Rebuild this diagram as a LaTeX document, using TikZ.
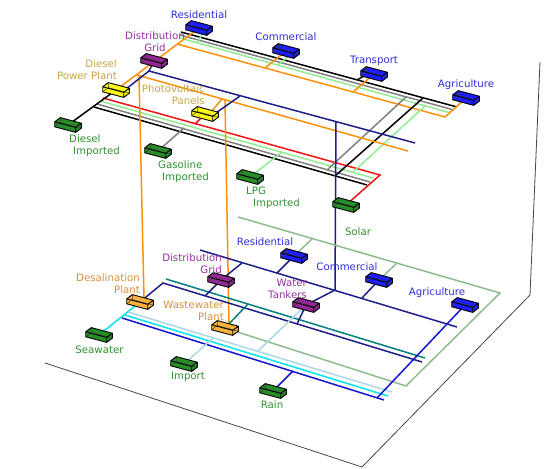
\documentclass[tikz,border=0pt]{standalone}
\usepackage{fontspec}
\setmainfont{DejaVu Sans}
\usetikzlibrary{calc}
\definecolor{cOrange}{RGB}{255,145,10}
\definecolor{cNavy}{RGB}{30,30,135}
\definecolor{cLGreen}{RGB}{144,238,144}
\definecolor{cGray}{RGB}{128,128,128}
\definecolor{cRed}{RGB}{240,20,20}
\definecolor{cTeal}{RGB}{0,128,128}
\definecolor{cCyan}{RGB}{0,230,240}
\definecolor{cLBlue}{RGB}{173,216,230}
\definecolor{cMBlue}{RGB}{20,20,210}
\definecolor{cSea}{RGB}{143,188,143}
\definecolor{cFrame}{RGB}{70,70,70}
\definecolor{fBlue}{RGB}{30,30,250}
\definecolor{fPurple}{RGB}{145,40,150}
\definecolor{fYellow}{RGB}{250,250,20}
\definecolor{fOrange}{RGB}{250,180,60}
\definecolor{fGreen}{RGB}{40,140,40}
\definecolor{tBlue}{RGB}{45,45,220}
\definecolor{tPurple}{RGB}{150,50,160}
\definecolor{tGold}{RGB}{200,165,70}
\definecolor{tOrange}{RGB}{215,145,60}
\definecolor{tGreen}{RGB}{50,145,50}
\tikzset{
  ln/.style={line width=1.5pt},
  frameline/.style={line width=0.8pt, cFrame},
  boxedge/.style={line width=0.9pt, black},
  hidedge/.style={line width=0.5pt, black!75},
  lab/.style={font=\fontsize{10.2}{12}\selectfont, inner sep=0pt},
  pics/bx/.style={code={
    \fill[#1] (-7.7,-7.4) -- (13.3,-1.8) -- (13.3,3.2) -- (7.7,7.4) -- (-13.3,1.8) -- (-13.3,-3.2) -- cycle;
    \draw[hidedge] (-7.7,-7.4) -- (-7.7,-2.4) -- (13.3,3.2) (-7.7,-2.4) -- (-13.3,1.8);
    \draw[boxedge, line join=round] (-7.7,-7.4) -- (13.3,-1.8) -- (7.7,2.4) -- (-13.3,-3.2) -- cycle
      (7.7,2.4) -- (7.7,7.4) (13.3,-1.8) -- (13.3,3.2) -- (7.7,7.4) -- (-13.3,1.8) -- (-13.3,-3.2);
  }}
}
\begin{document}
\begin{tikzpicture}[x=1pt,y=-1pt]
\fill[white] (0,0) rectangle (555,469);
\useasboundingbox (0,0) rectangle (555,469);
% ---------- box centres ----------
\coordinate (res) at (199,28);
\coordinate (com) at (286,51);
\coordinate (tra) at (374,74);
\coordinate (agr) at (466,98);
\coordinate (dg) at (154,61);
\coordinate (dpp) at (116,90);
\coordinate (pv) at (205,114);
\coordinate (di) at (68,125);
\coordinate (gi) at (158,151);
\coordinate (lpg) at (250,177);
\coordinate (sol) at (346,205);
\coordinate (ds) at (140,302);
\coordinate (sea) at (99,335);
\coordinate (dg2) at (221,280);
\coordinate (ww) at (225,328);
\coordinate (imp) at (184,364);
\coordinate (rain) at (273,391);
\coordinate (res2) at (294,256);
\coordinate (wt) at (306,305);
\coordinate (com2) at (379,280);
\coordinate (agr2) at (465,305);
% ---------- frame ----------
\coordinate (f1) at (45,363);
\coordinate (f2) at (362,467);
\coordinate (f3) at (530,295);
\coordinate (f4) at (540,62);
\draw[frameline] (f1) -- (f2) -- (f3) -- (f4);
% ---------- upper layer coordinates ----------
\coordinate (k1) at (181,32);  \coordinate (k2) at (457,107);
\coordinate (g1) at (180,35);  \coordinate (g2) at (454,110);
\coordinate (l1) at (180,38);  \coordinate (l2) at (451,113);
\coordinate (o1) at (177,44);  \coordinate (o2) at (445,117);
\coordinate (r1) at (103,98);  \coordinate (r2) at (380,175);
\coordinate (sl1) at (100,101); \coordinate (sl2) at (373,178);
\coordinate (sg1) at (97,104); \coordinate (sg2) at (370,182);
\coordinate (sk1) at (94,107); \coordinate (sk2) at (367,185);
\coordinate (xk1) at (335,176); \coordinate (xk2) at (423,98);
\coordinate (xg1) at (327,170); \coordinate (xg2) at (406,97);
\coordinate (xl1) at (353,172); \coordinate (xl2) at (425,106);
\coordinate (sres) at (197,43);
\coordinate (scomo) at (265,68); \coordinate (scoml) at (278,65);
\coordinate (strao) at (353,92); \coordinate (strak) at (357,80);
\coordinate (sgi) at (184,128); \coordinate (slpg) at (282,152); \coordinate (spv) at (195,124);
\coordinate (m1) at (137,75); \coordinate (m2) at (408,151);
\coordinate (v1) at (139,76); \coordinate (v1b) at (144,298);
\coordinate (v2) at (225,100); \coordinate (v2b) at (229,324);
\coordinate (spvo) at (222,99);
\coordinate (n0) at (149,71); \coordinate (n2) at (415,143);
\coordinate (spvn) at (240,96);
\coordinate (nv1) at (336,122); \coordinate (nv2) at (335,290);
% ---------- upper layer lines ----------
\draw[ln,black] (k1) -- (k2);
\draw[ln,cGray] (g1) -- (g2);
\draw[ln,cLGreen] (l1) -- (l2);
\draw[ln,cOrange] (o1) -- (o2) -- (agr);
\draw[ln,cLGreen] ($(res)+(5,3)$) -- (sres);
\draw[ln,cOrange] (com) -- (scomo);
\draw[ln,cLGreen] ($(com)+(6,2)$) -- (scoml);
\draw[ln,cOrange] (tra) -- (strao);
\draw[ln,black] ($(tra)+(-10,2)$) -- (strak);
\draw[ln,cRed] (r1) -- (r2) -- (sol);
\draw[ln,cLGreen] (sl1) -- (sl2);
\draw[ln,cGray] (sg1) -- (sg2);
\draw[ln,black] (sk1) -- (sk2);
\draw[ln,black] (di) -- (dpp);
\draw[ln,black] (xk1) -- (xk2);
\draw[ln,cGray] (xg1) -- (xg2);
\draw[ln,cLGreen] (xl1) -- (xl2);
\draw[ln,cGray] (gi) -- (sgi);
\draw[ln,cLGreen] (lpg) -- (slpg);
\draw[ln,cRed] (pv) -- (spv);
\draw[ln,cOrange] (dpp) -- (res);
\draw[ln,cOrange] (m1) -- (m2);
\draw[ln,cOrange] (v1) -- (v1b);
\draw[ln,cOrange] (v2) -- (v2b);
\draw[ln,cOrange] ($(pv)+(6,-2)$) -- (spvo);
\draw[ln,cNavy] ($(dpp)+(10,-1)$) -- (n0) -- (n2);
\draw[ln,cNavy] (n0) -- (dg);
\draw[ln,cNavy] ($(pv)+(8,1)$) -- (spvn);
\draw[ln,cNavy] (nv1) -- (nv2);
% ---------- lower layer coordinates ----------
\coordinate (lb1) at (128,312); \coordinate (lb2) at (392,392);
\coordinate (c1) at (125,315);  \coordinate (c2) at (388,396);
\coordinate (b1) at (122,318);  \coordinate (b2) at (384,400);
\coordinate (nb0) at (163,283); \coordinate (nb2) at (422,362);
\coordinate (t1) at (166,279);  \coordinate (t2) at (425,358);
\coordinate (nn1) at (200,250); \coordinate (nn2) at (457,327);
\coordinate (dg2up) at (242,263); \coordinate (dg2dn) at (205,296);
\coordinate (sres2) at (277,273);
\coordinate (swt) at (297,324);
\coordinate (scom2) at (362,298);
\coordinate (sagr2) at (377,398);
\coordinate (sww) at (248,304);
\coordinate (sa) at (406,386); \coordinate (sb) at (500,293); \coordinate (sc) at (238,217);
\coordinate (ssr) at (312,239); \coordinate (ssc) at (397,263);
\coordinate (slb) at (258,351);
\coordinate (simp) at (213,338);
\coordinate (srain) at (293,371);
% ---------- lower layer lines ----------
\draw[ln,cSea] (ww) -- (sa) -- (sb) -- (sc);
\draw[ln,cSea] (ssr) -- (res2);
\draw[ln,cSea] (ssc) -- (com2);
\draw[ln,cCyan] (sea) -- (ds);
\draw[ln,cLBlue] (lb1) -- (lb2);
\draw[ln,cCyan] (c1) -- (c2);
\draw[ln,cMBlue] (b1) -- (b2);
\draw[ln,cNavy] (ds) -- (nb0) -- (nb2);
\draw[ln,cTeal] (t1) -- (t2);
\draw[ln,cNavy] (nn1) -- (nn2);
\draw[ln,cNavy] (dg2up) -- (dg2) -- (dg2dn);
\draw[ln,cNavy] (res2) -- (sres2);
\draw[ln,cNavy] (nv2) -- (wt) -- (swt);
\draw[ln,cNavy] (com2) -- (scom2);
\draw[ln,cMBlue] (agr2) -- (sagr2);
\draw[ln,cTeal] (ww) -- (sww);
\draw[ln,cLBlue] (slb) -- (wt);
\draw[ln,cLBlue] (imp) -- (simp);
\draw[ln,cMBlue] (rain) -- (srain);
% ---------- boxes ----------
\foreach \p in {res,com,tra,agr,res2,com2,agr2} {\pic at (\p) {bx=fBlue};}
\foreach \p in {dg,dg2,wt} {\pic at (\p) {bx=fPurple};}
\foreach \p in {dpp,pv} {\pic at (\p) {bx=fYellow};}
\foreach \p in {ds,ww} {\pic at (\p) {bx=fOrange};}
\foreach \p in {di,gi,lpg,sol,sea,imp,rain} {\pic at (\p) {bx=fGreen};}
% ---------- labels ----------
\node[lab,tBlue] (lres) at (199,15) {Residential};
\node[lab,tBlue] (lcom) at (286,37) {Commercial};
\node[lab,tBlue] (ltra) at (374,61) {Transport};
\node[lab,tBlue] (lagr) at (466,85) {Agriculture};
\node[lab,tPurple,align=center] (ldg) at (155,42) {Distribution\\Grid};
\node[lab,tGold,align=right,anchor=east] (ldpp) at (117,70) {Diesel\\Power Plant};
\node[lab,tGold,align=right,anchor=east] (lpv) at (205,95) {Photovoltaic\\Panels};
\node[lab,tGreen,align=left,anchor=west] (ldi) at (69,146) {Diesel\\\hspace*{4pt}Imported};
\node[lab,tGreen,align=left,anchor=west] (lgi) at (158,172) {Gasoline\\\hspace*{4pt}Imported};
\node[lab,tGreen,align=left,anchor=west] (llpg) at (246,198) {LPG\\\hspace*{7pt}Imported};
\node[lab,tGreen] (lsol) at (358,232) {Solar};
\node[lab,tBlue] (lres2) at (265,242) {Residential};
\node[lab,tBlue] (lcom2) at (347,267) {Commercial};
\node[lab,tBlue] (lagr2) at (437,293) {Agriculture};
\node[lab,tPurple,align=right,anchor=east] (lwt) at (307,289) {Water\\Tankers};
\node[lab,tPurple,align=right,anchor=east] (ldg2) at (222,264) {Distribution\\Grid};
\node[lab,tOrange,align=right,anchor=east] (lds) at (140,284) {Desalination\\Plant};
\node[lab,tOrange,align=right,anchor=east] (lww) at (224,310.5) {Wastewater\\Plant};
\node[lab,tGreen] (lsea) at (99.5,350) {Seawater};
\node[lab,tGreen] (limp) at (188,377) {Import};
\node[lab,tGreen] (lrain) at (272,405) {Rain};
\end{tikzpicture}
\end{document}
